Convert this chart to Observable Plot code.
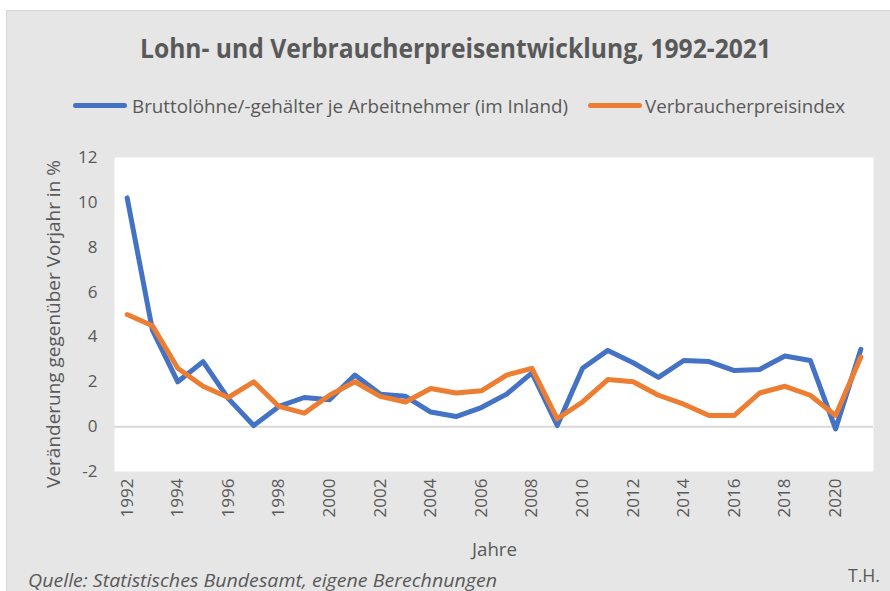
<!DOCTYPE html>
<html>
<head>
<meta charset="utf-8">
<script src="https://cdn.jsdelivr.net/npm/d3@7"></script>
<script src="https://cdn.jsdelivr.net/npm/@observablehq/plot@0.6"></script>
<style>
  html, body { margin: 0; padding: 0; background: #fff; }
  #wrap { position: relative; width: 890px; height: 591px; overflow: hidden; font-family: "Open Sans", sans-serif; color: #595959; }
  #bg { position: absolute; left: 6px; top: 10px; right: 0; bottom: 0; background: #e6e6e6; border-top: 1px solid #d6d6d6; border-left: 1px solid #d6d6d6; }
  #chart { position: absolute; left: 0; top: 0; }
  .t { position: absolute; white-space: nowrap; line-height: normal; transform-origin: 0 0; }
  #title { left: 140px; top: 30px; font-size: 26px; font-weight: bold; }
  .leg { position: absolute; top: 103px; height: 5px; border-radius: 3px; }
  .legtxt { top: 93px; font-size: 18.7px; }
  #ylab { left: 52px; top: 324px; font-size: 18.7px; transform-origin: 50% 50%; }
  #xlab { left: 472px; top: 536px; font-size: 18.7px; }
  #cap { left: 28px; top: 567px; font-style: italic; font-size: 18.7px; }
  #th { left: 848px; top: 562px; font-size: 18.7px; }
</style>
</head>
<body>
<div id="wrap">
  <div id="bg"></div>
  <div id="chart"></div>
  <div class="t" id="title" data-w="631">Lohn- und Verbraucherpreisentwicklung, 1992-2021</div>
  <div class="leg" style="left:73px;width:54px;background:#4472C4"></div>
  <div class="t legtxt" style="left:132px" data-w="436">Bruttolöhne/-gehälter je Arbeitnehmer (im Inland)</div>
  <div class="leg" style="left:588px;width:54px;background:#ED7D31"></div>
  <div class="t legtxt" style="left:645px" data-w="200">Verbraucherpreisindex</div>
  <div class="t" id="ylab">Veränderung gegenüber Vorjahr in %</div>
  <div class="t" id="xlab" data-w="45">Jahre</div>
  <div class="t" id="cap" data-w="469">Quelle: Statistisches Bundesamt, eigene Berechnungen</div>
  <div class="t" id="th" data-w="32">T.H.</div>
</div>
<script>
const years = d3.range(1992, 2022);
const wages = [10.2, 4.3, 2.0, 2.9, 1.25, 0.05, 0.9, 1.3, 1.2, 2.3, 1.45, 1.35, 0.65, 0.45, 0.85, 1.45, 2.4, 0.05,
               2.6, 3.4, 2.85, 2.2, 2.95, 2.9, 2.5, 2.55, 3.15, 2.95, -0.1, 3.45];
const cpi = [5.0, 4.5, 2.6, 1.8, 1.3, 2.0, 0.9, 0.6, 1.4, 2.0, 1.35, 1.1, 1.7, 1.5, 1.6, 2.3, 2.6, 0.35,
             1.1, 2.1, 2.0, 1.4, 1.0, 0.5, 0.5, 1.5, 1.8, 1.4, 0.5, 3.1];
const yTicks = [-2, 0, 2, 4, 6, 8, 10, 12];
const xTicks = d3.range(1992, 2021, 2);
const seriesNames = ["Bruttolöhne/-gehälter je Arbeitnehmer (im Inland)", "Verbraucherpreisindex"];

const rows = [];
years.forEach((y, i) => {
  rows.push({year: y, value: wages[i], series: seriesNames[0]});
  rows.push({year: y, value: cpi[i], series: seriesNames[1]});
});

const chart = Plot.plot({
  width: 890,
  height: 591,
  marginLeft: 114,
  marginRight: 17,
  marginTop: 157,
  marginBottom: 120,
  style: {background: "transparent", fontFamily: "'Open Sans', sans-serif", color: "#595959"},
  x: {type: "linear", domain: [1991.5, 2021.5]},
  y: {domain: [-2, 12]},
  color: {domain: seriesNames, range: ["#4472C4", "#ED7D31"]},
  marks: [
    Plot.frame({fill: "white", stroke: "none"}),
    Plot.ruleY([0], {stroke: "#d9d9d9", strokeWidth: 2}),
    Plot.axisY({ticks: yTicks, tickSize: 0, tickPadding: 17, fontSize: 17, label: null, tickFormat: d => d < 0 ? "-" + Math.abs(d) : String(d)}),
    Plot.axisX({ticks: xTicks, tickSize: 0, tickPadding: 7, tickRotate: -90, fontSize: 17, label: null, tickFormat: d => String(d)}),
    Plot.line(rows, {x: "year", y: "value", z: "series", stroke: "series", strokeWidth: 5, strokeLinecap: "round", strokeLinejoin: "round"})
  ]
});
document.getElementById("chart").appendChild(chart);

// fit text widths to the reference layout
document.querySelectorAll("[data-w]").forEach(el => {
  const w = el.getBoundingClientRect().width;
  const k = +el.dataset.w / w;
  el.style.transform = `scaleX(${k})`;
});
const yl = document.getElementById("ylab");
const k = 328 / yl.offsetWidth;
yl.style.transform = `translate(-50%, -50%) rotate(-90deg) scaleX(${k})`;
</script>
</body>
</html>
